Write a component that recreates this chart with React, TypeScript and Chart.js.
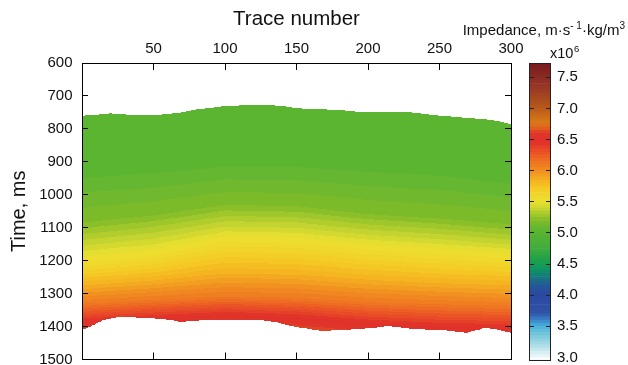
import React, { useEffect, useRef } from 'react';
import { Chart, registerables } from 'chart.js';

Chart.register(...registerables);

const FONT = "'Liberation Sans', Arial, Helvetica, sans-serif";
const TEXT = '#111111';

// ---- axes ----
const TRACE_TICKS = [0, 50, 100, 150, 200, 250, 300];
const TIME_TICKS = [600, 700, 800, 900, 1000, 1100, 1200, 1300, 1400, 1500];
const IMPEDANCE_TICKS = [3.0, 3.5, 4.0, 4.5, 5.0, 5.5, 6.0, 6.5, 7.0, 7.5];
const IMPEDANCE_MIN = 2.95;
const IMPEDANCE_MAX = 7.73;
const TRACE_COUNT = 300;

// ---- section outline (time in ms of first / last sample per trace) ----
const TOP_TRACES = [0, 10, 20, 30, 40, 50, 60, 70, 80, 90, 100, 110, 120, 130, 140, 150, 160, 170, 180, 190, 200, 210, 220, 230, 240, 250, 260, 270, 280, 290, 300];
const TOP_TIME = [760, 757, 753, 756, 759, 758, 755, 750, 741, 736, 730, 729, 728, 728, 730, 737, 740, 741, 742, 747, 750, 750, 750, 750, 755, 760, 763, 767, 770, 776, 785];
const BOTTOM_TRACES = [0, 8, 15, 27, 36, 50, 62, 69, 78, 101, 125, 137, 148, 160, 167, 181, 195, 206, 214, 223, 234, 253, 269, 276, 282, 290, 300];
const BOTTOM_TIME = [1411, 1395, 1380, 1370, 1372, 1375, 1380, 1387, 1382, 1380, 1380, 1388, 1400, 1408, 1413, 1411, 1407, 1403, 1398, 1403, 1408, 1411, 1419, 1411, 1404, 1409, 1419];

// ---- iso-impedance contours (time in ms at each contour trace) ----
const CONTOUR_TRACES = [0, 50, 100, 150, 200, 250, 300];
const CONTOUR_LEVELS = [5.05, 5.2, 5.38, 5.55, 5.85, 6.1, 6.4];
const CONTOUR_505 = [948, 935, 914, 916, 930, 942, 966];
const CONTOUR_520 = [1084, 1062, 1030, 1034, 1058, 1072, 1090];
const CONTOUR_538 = [1147, 1125, 1090, 1094, 1115, 1128, 1145];
const CONTOUR_555 = [1206, 1185, 1140, 1145, 1165, 1178, 1192];
const CONTOUR_585 = [1275, 1260, 1238, 1242, 1258, 1268, 1275];
const CONTOUR_610 = [1330, 1318, 1308, 1312, 1325, 1332, 1338];
const CONTOUR_640 = [1375, 1365, 1355, 1362, 1378, 1388, 1392];
const UPPER_IMPEDANCE = 5.0;
const DEEPEST_IMPEDANCE = 6.62;
const BAND_STEP = 0.05;

// ---- colour map ----
const CMAP_VALUES = [2.95, 3.05, 3.2, 3.35, 3.5, 3.6, 3.7, 4.0, 4.15, 4.3, 4.42, 4.55, 4.75, 5.025, 5.1, 5.2, 5.3, 5.4, 5.5, 5.7, 5.85, 6.0, 6.15, 6.3, 6.45, 6.6, 6.7, 6.78, 6.9, 7.0, 7.15, 7.3, 7.5, 7.73];
const CMAP_COLORS = ['#ffffff', '#dff0f4', '#a8dce6', '#78c8da', '#48b0dc', '#3a82c6', '#3054a8', '#2a48a0', '#26589a', '#147c78', '#109660', '#1ea04c', '#40ab3c', '#5cb531', '#6ab72f', '#80bc28', '#a8ca2c', '#ccd630', '#ece030', '#f4cc26', '#f4b020', '#f08c20', '#ee7022', '#ea5026', '#e0302a', '#e0362a', '#e06a1c', '#d87818', '#c86818', '#b85a1c', '#a84a20', '#9a3a24', '#8a2a24', '#781a1e'];

function hexToRgb(h: string): number[] {
  const n = parseInt(h.slice(1), 16);
  return [(n >> 16) & 255, (n >> 8) & 255, n & 255];
}
const CMAP_RGB = CMAP_COLORS.map(hexToRgb);

function cmap(v: number): string {
  if (v <= CMAP_VALUES[0]) return CMAP_COLORS[0];
  const last = CMAP_VALUES.length - 1;
  if (v >= CMAP_VALUES[last]) return CMAP_COLORS[last];
  for (let i = 0; i < last; i++) {
    if (v < CMAP_VALUES[i + 1]) {
      const f = (v - CMAP_VALUES[i]) / (CMAP_VALUES[i + 1] - CMAP_VALUES[i]);
      const a = CMAP_RGB[i], b = CMAP_RGB[i + 1];
      const c = a.map((x, k) => Math.round(x + (b[k] - x) * f));
      return `rgb(${c[0]},${c[1]},${c[2]})`;
    }
  }
  return CMAP_COLORS[last];
}

function lerpTable(xs: number[], ys: number[], x: number): number {
  if (x <= xs[0]) return ys[0];
  for (let i = 0; i < xs.length - 1; i++) {
    if (x <= xs[i + 1]) {
      const f = (x - xs[i]) / (xs[i + 1] - xs[i]);
      return ys[i] + (ys[i + 1] - ys[i]) * f;
    }
  }
  return ys[ys.length - 1];
}

const CONTOURS = [CONTOUR_505, CONTOUR_520, CONTOUR_538, CONTOUR_555, CONTOUR_585, CONTOUR_610, CONTOUR_640];

function impedanceAt(c: number[], t: number): number {
  const L = CONTOUR_LEVELS;
  if (t < c[0]) return UPPER_IMPEDANCE;
  for (let k = 0; k < c.length - 1; k++) {
    if (t < c[k + 1]) return L[k] + ((t - c[k]) / (c[k + 1] - c[k])) * (L[k + 1] - L[k]);
  }
  const n = c.length - 1;
  const slope = (L[n] - L[n - 1]) / (c[n] - c[n - 1]);
  return Math.min(DEEPEST_IMPEDANCE, L[n] + (t - c[n]) * slope);
}

function bandOf(v: number): number {
  return Math.floor((v - IMPEDANCE_MIN) / BAND_STEP + 1e-9);
}
function bandColor(b: number): string {
  return cmap(IMPEDANCE_MIN + (b + 0.5) * BAND_STEP);
}

const heatmapPlugin = {
  id: 'heatmap',
  beforeDraw(chart: any) {
    const { ctx, chartArea, scales } = chart;
    const xs = scales.x, ys = scales.y;
    ctx.save();
    ctx.beginPath();
    ctx.rect(chartArea.left, chartArea.top, chartArea.right - chartArea.left, chartArea.bottom - chartArea.top);
    ctx.clip();
    const cache: Record<number, string> = {};
    const col = (b: number) => (cache[b] ??= bandColor(b));
    for (let i = 0; i < TRACE_COUNT; i++) {
      const tc = i + 0.5;
      const x0 = Math.round(xs.getPixelForValue(i));
      const x1 = Math.round(xs.getPixelForValue(i + 1));
      const top = lerpTable(TOP_TRACES, TOP_TIME, tc);
      const bot = lerpTable(BOTTOM_TRACES, BOTTOM_TIME, tc);
      const c = CONTOURS.map((arr) => lerpTable(CONTOUR_TRACES, arr, tc));
      const fill = (a: number, b: number, band: number) => {
        const y0 = Math.round(ys.getPixelForValue(a));
        const y1 = Math.round(ys.getPixelForValue(b));
        if (y1 <= y0) return;
        ctx.fillStyle = col(band);
        ctx.fillRect(x0, y0, x1 - x0, y1 - y0);
      };
      let runStart = top;
      let runBand = bandOf(impedanceAt(c, top));
      for (let t = Math.floor(top) + 1; t < bot; t++) {
        const b = bandOf(impedanceAt(c, t));
        if (b !== runBand) {
          fill(runStart, t, runBand);
          runStart = t;
          runBand = b;
        }
      }
      fill(runStart, bot, runBand);
    }
    ctx.restore();
  },
};

const inwardTicksPlugin = {
  id: 'inwardTicks',
  afterDraw(chart: any) {
    const { ctx, chartArea, scales } = chart;
    const { left, right, top, bottom } = chartArea;
    ctx.save();
    ctx.strokeStyle = '#000';
    ctx.lineWidth = 1;
    ctx.beginPath();
    TRACE_TICKS.forEach((v) => {
      if (v <= 0 || v >= TRACE_COUNT) return;
      const p = Math.floor(scales.x.getPixelForValue(v)) + 0.5;
      ctx.moveTo(p, top);
      ctx.lineTo(p, top + 7);
      ctx.moveTo(p, bottom);
      ctx.lineTo(p, bottom - 7);
    });
    TIME_TICKS.forEach((v, i) => {
      if (i === 0 || i === TIME_TICKS.length - 1) return;
      const p = Math.floor(scales.y.getPixelForValue(v)) + 0.5;
      ctx.moveTo(left, p);
      ctx.lineTo(left + 6, p);
      ctx.moveTo(right, p);
      ctx.lineTo(right - 6, p);
    });
    ctx.stroke();
    ctx.restore();
  },
};

const colorbarPlugin = {
  id: 'colorbarFrame',
  afterDraw(chart: any) {
    const { ctx, chartArea, scales } = chart;
    const { left, right, top, bottom } = chartArea;
    ctx.save();
    ctx.strokeStyle = '#222';
    ctx.lineWidth = 1;
    ctx.strokeRect(Math.round(left) + 0.5, Math.round(top) + 0.5, Math.round(right - left) - 1, Math.round(bottom - top) - 1);
    ctx.beginPath();
    IMPEDANCE_TICKS.forEach((v, i) => {
      if (i === 0) return;
      const p = Math.floor(scales.y.getPixelForValue(v)) + 0.5;
      ctx.moveTo(left, p);
      ctx.lineTo(left + 5, p);
      ctx.moveTo(right, p);
      ctx.lineTo(right - 5, p);
    });
    ctx.stroke();

    // texts (canvas is offset 440px from page left)
    ctx.fillStyle = TEXT;
    ctx.textAlign = 'left';
    ctx.textBaseline = 'alphabetic';
    const base = 35;
    let x = 22.7;
    const part = (s: string, size: number, dy: number) => {
      ctx.font = `${size}px ${FONT}`;
      ctx.fillText(s, x, base + dy);
      x += ctx.measureText(s).width;
    };
    part('Impedance, m·s', 15, 0);
    part('- 1', 10, -6);
    part('·kg/m', 15, 0);
    part('3', 10, -6);

    ctx.font = `14.5px ${FONT}`;
    ctx.fillText('x10', 110, 58.3);
    const w = ctx.measureText('x10').width;
    ctx.font = `9.5px ${FONT}`;
    ctx.fillText('6', 110 + w + 0.5, 52);
    ctx.restore();
  },
};

export default function App() {
  const mainRef = useRef<HTMLCanvasElement>(null);
  const cbRef = useRef<HTMLCanvasElement>(null);

  useEffect(() => {
    Chart.defaults.font.family = FONT;
    Chart.defaults.color = TEXT;

    const axisBorder = { display: true, color: '#000', width: 1 };
    const noGrid = { display: false, drawTicks: false };

    const main = new Chart(mainRef.current as HTMLCanvasElement, {
      type: 'scatter',
      data: { datasets: [{ data: [] }] },
      options: {
        animation: false,
        responsive: false,
        devicePixelRatio: 1,
        events: [],
        layout: { padding: 0 },
        plugins: { legend: { display: false }, tooltip: { enabled: false } },
        scales: {
          x: {
            type: 'linear',
            position: 'top',
            min: 0,
            max: TRACE_COUNT,
            afterBuildTicks: (s: any) => {
              s.ticks = TRACE_TICKS.map((v) => ({ value: v }));
            },
            ticks: {
              autoSkip: false,
              maxRotation: 0,
              padding: 5,
              color: TEXT,
              font: { size: 15 },
              callback: (v: any) => (Number(v) === 0 ? '' : String(v)),
            },
            grid: noGrid,
            border: axisBorder,
            title: { display: true, text: 'Trace number', color: TEXT, font: { size: 20.5 }, padding: { top: 7.5, bottom: 0 } },
            afterFit: (s: any) => {
              s.height = 63;
              s.paddingLeft = 0;
              s.paddingRight = 0;
            },
          },
          x2: {
            type: 'linear',
            position: 'bottom',
            min: 0,
            max: TRACE_COUNT,
            ticks: { display: false },
            grid: noGrid,
            border: axisBorder,
            afterFit: (s: any) => {
              s.height = 5.5;
              s.paddingLeft = 0;
              s.paddingRight = 0;
            },
          },
          y: {
            type: 'linear',
            position: 'left',
            min: TIME_TICKS[0],
            max: TIME_TICKS[TIME_TICKS.length - 1],
            reverse: true,
            afterBuildTicks: (s: any) => {
              s.ticks = TIME_TICKS.map((v) => ({ value: v }));
            },
            ticks: { autoSkip: false, padding: 9.5, color: TEXT, font: { size: 15 }, callback: (v: any) => String(v) },
            grid: noGrid,
            border: axisBorder,
            title: { display: true, text: 'Time, ms', color: TEXT, font: { size: 20 }, padding: { top: 7.5, bottom: 0 } },
            afterFit: (s: any) => {
              s.width = 82;
              s.paddingTop = 0;
              s.paddingBottom = 0;
            },
          },
          y2: {
            type: 'linear',
            position: 'right',
            min: TIME_TICKS[0],
            max: TIME_TICKS[TIME_TICKS.length - 1],
            reverse: true,
            ticks: { display: false },
            grid: noGrid,
            border: axisBorder,
            afterFit: (s: any) => {
              s.width = 29;
              s.paddingTop = 0;
              s.paddingBottom = 0;
            },
          },
        },
      } as any,
      plugins: [heatmapPlugin, inwardTicksPlugin],
    });

    // colour bar bands
    const bands: { lo: number; hi: number; color: string }[] = [];
    for (let k = 0; IMPEDANCE_MIN + k * BAND_STEP < IMPEDANCE_MAX - 1e-9; k++) {
      const lo = IMPEDANCE_MIN + k * BAND_STEP;
      const hi = Math.min(lo + BAND_STEP, IMPEDANCE_MAX);
      bands.push({ lo, hi, color: bandColor(k) });
    }

    const cb = new Chart(cbRef.current as HTMLCanvasElement, {
      type: 'bar',
      data: {
        labels: ['impedance'],
        datasets: bands.map((b) => ({
          data: [[b.lo, b.hi]],
          backgroundColor: b.color,
          borderWidth: 0,
          grouped: false,
          barPercentage: 1,
          categoryPercentage: 1,
        })),
      },
      options: {
        animation: false,
        responsive: false,
        devicePixelRatio: 1,
        events: [],
        layout: { padding: { left: 89, top: 63, bottom: 4.5, right: 0 } },
        plugins: { legend: { display: false }, tooltip: { enabled: false } },
        scales: {
          x: { display: false },
          y: {
            type: 'linear',
            position: 'right',
            min: IMPEDANCE_MIN,
            max: IMPEDANCE_MAX,
            afterBuildTicks: (s: any) => {
              s.ticks = IMPEDANCE_TICKS.map((v) => ({ value: v }));
            },
            ticks: { autoSkip: false, padding: 6, color: TEXT, font: { size: 15 }, callback: (v: any) => Number(v).toFixed(1) },
            grid: noGrid,
            border: { display: false },
            afterFit: (s: any) => {
              s.width = 77;
              s.paddingTop = 0;
              s.paddingBottom = 0;
            },
          },
        },
      } as any,
      plugins: [colorbarPlugin],
    });

    return () => {
      main.destroy();
      cb.destroy();
    };
  }, []);

  return (
    <div style={{ position: 'fixed', left: 0, top: 0, width: 628, height: 365, background: '#fff' }}>
      <canvas ref={mainRef} width={540} height={365} style={{ position: 'absolute', left: 0, top: 0 }} />
      <canvas ref={cbRef} width={188} height={365} style={{ position: 'absolute', left: 440, top: 0 }} />
    </div>
  );
}
